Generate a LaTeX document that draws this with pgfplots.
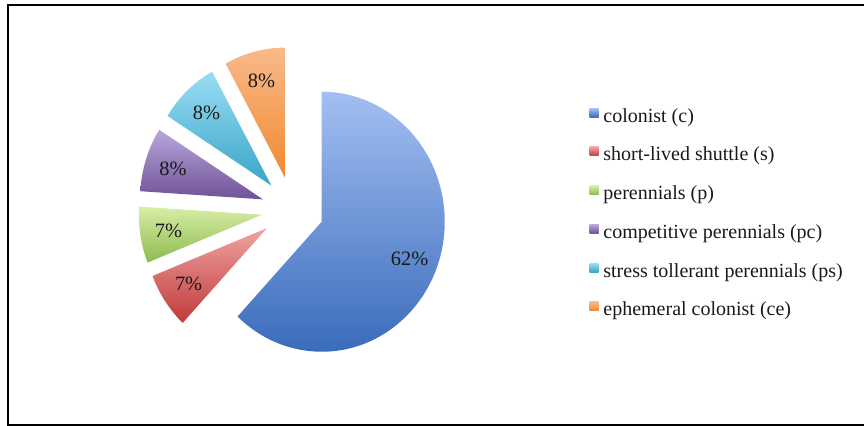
\documentclass[border=0pt]{standalone}
\usepackage{pgfplots}
\pgfplotsset{compat=1.18}
\usepackage{pgfplotstable}
\usepackage{fontspec}
\setmainfont{Liberation Serif}

% slice colours (light top, dark bottom)
\definecolor{cAt}{HTML}{A3BFF2}\definecolor{cAb}{HTML}{3A6CBB}
\definecolor{cBt}{HTML}{F0A3A3}\definecolor{cBb}{HTML}{BE3A37}
\definecolor{cCt}{HTML}{D8EEA6}\definecolor{cCb}{HTML}{8DBA4E}
\definecolor{cDt}{HTML}{B9A6D9}\definecolor{cDb}{HTML}{6F5298}
\definecolor{cEt}{HTML}{9ADDF5}\definecolor{cEb}{HTML}{38A5C5}
\definecolor{cFt}{HTML}{F9B98A}\definecolor{cFb}{HTML}{F08A30}

\pgfplotstableread[col sep=comma]{
value,label,ctop,cbot
62,colonist (c),cAt,cAb
7,short-lived shuttle (s),cBt,cBb
7,perennials (p),cCt,cCb
8,competitive perennials (pc),cDt,cDb
8,stress tollerant perennials (ps),cEt,cEb
8,ephemeral colonist (ce),cFt,cFb
}\piedata

\newcommand\pctfont{\fontsize{10.2}{12}\selectfont}
\newcommand\legfont{\fontsize{10}{12}\selectfont}

\begin{document}
\begin{tikzpicture}
\useasboundingbox (0,0) rectangle (432pt,213pt);
\begin{axis}[
  at={(0,0)}, anchor=south west,
  scale only axis, width=432pt, height=213pt,
  xmin=0, xmax=864, ymin=0, ymax=426, y dir=reverse,
  hide axis, clip=false]

% frame (right edge lies outside the picture)
\draw[line width=1pt] (axis cs:864,5.5) -- (axis cs:7.5,5.5)
  -- (axis cs:7.5,425) -- (axis cs:864,425);

% pie centre, explode distance, label distance (pixels)
\def\cx{292.7}\def\cy{209.6}\def\ex{33}\def\lr{100}
\def\cum{0}
\pgfplotsforeachungrouped \i in {0,...,5}{%
  \pgfplotstablegetelem{\i}{value}\of\piedata \let\v\pgfplotsretval
  \pgfplotstablegetelem{\i}{label}\of\piedata \let\lab\pgfplotsretval
  \pgfplotstablegetelem{\i}{ctop}\of\piedata \let\ct\pgfplotsretval
  \pgfplotstablegetelem{\i}{cbot}\of\piedata \let\cb\pgfplotsretval
  \pgfmathsetmacro\as{90-3.6*\cum}
  \pgfmathsetmacro\cum{\cum+\v}
  \pgfmathsetmacro\ae{90-3.6*\cum}
  \pgfmathsetmacro\bi{(\as+\ae)/2}
  \pgfmathsetmacro\ax{\cx+\ex*0.946*cos(\bi)}
  \pgfmathsetmacro\ay{\cy-\ex*sin(\bi)}
  \pgfmathsetmacro\lx{\ax+\lr*0.946*cos(\bi)}
  \pgfmathsetmacro\ly{\ay-\lr*sin(\bi)}
  \pgfmathsetmacro\sx{61.5*cos(\as)}
  \pgfmathsetmacro\sy{65*sin(\as)}
  \pgfmathsetmacro\qy{108.3+38.7*\i}
  \pgfmathsetmacro\qyy{117.3+38.7*\i}
  \pgfmathsetmacro\by{122.3+38.7*\i}
  \edef\doslice{%
    \noexpand\shade[top color=\ct, bottom color=\cb]
      (axis cs:\ax,\ay) -- ++(\sx pt,\sy pt)
      arc[start angle=\as, end angle=\ae, x radius=61.5pt, y radius=65pt] -- cycle;
    \noexpand\node[font=\noexpand\pctfont, text=black!90] at (axis cs:\lx,\ly) {\v\noexpand\%};
    \noexpand\shade[top color=\ct, bottom color=\cb]
      (axis cs:589.5,\qy) rectangle (axis cs:598.5,\qyy);
    \noexpand\node[font=\noexpand\legfont, anchor=base west, inner sep=0pt, text=black!90]
      at (axis cs:603,\by) {\lab};
  }%
  \doslice
}
\end{axis}
\end{tikzpicture}
\end{document}
